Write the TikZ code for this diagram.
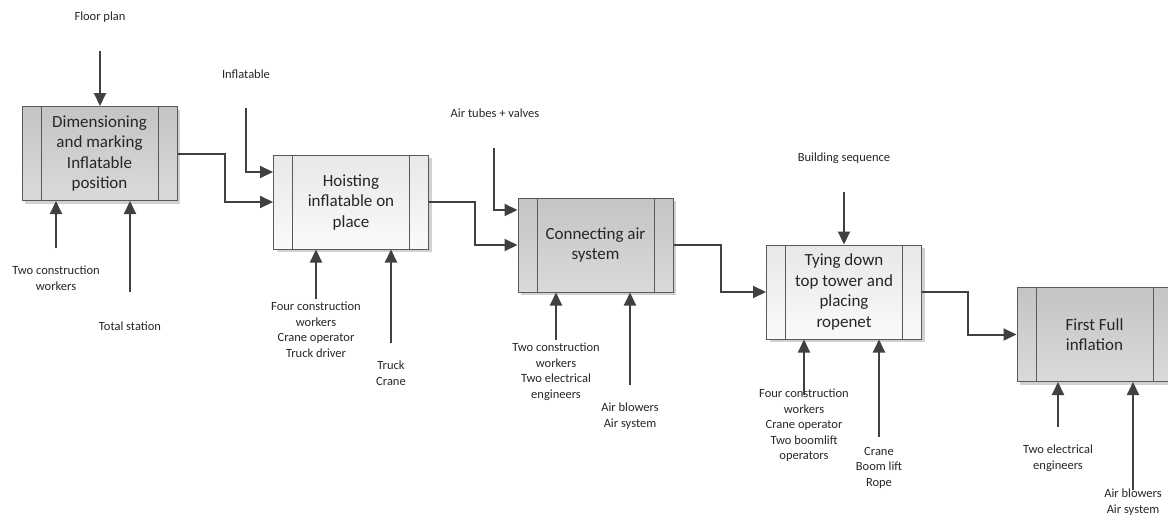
\documentclass[tikz,border=0pt]{standalone}
\usepackage{fontspec}
\setmainfont{Carlito}
\usetikzlibrary{arrows.meta,shadows}
\definecolor{linegray}{HTML}{404040}
\definecolor{edgegray}{HTML}{5A5A5A}
\definecolor{darkfillA}{HTML}{C4C4C4}
\definecolor{darkfillB}{HTML}{DADADA}
\definecolor{lightfillA}{HTML}{E8E8E8}
\definecolor{lightfillB}{HTML}{FAFAFA}
\tikzset{
  activity/.style={draw=edgegray, line width=1pt, minimum width=155pt, minimum height=94pt,
    inner sep=0pt, align=center,
    font=\fontsize{17}{20.5}\selectfont, text=black!85,
    drop shadow={shadow xshift=3pt, shadow yshift=-3pt, fill=black!18, opacity=1},
    path picture={
      \draw[edgegray, line width=1pt]
        ([xshift=19pt]path picture bounding box.north west) --
        ([xshift=19pt]path picture bounding box.south west)
        ([xshift=-19pt]path picture bounding box.north east) --
        ([xshift=-19pt]path picture bounding box.south east);
    }},
  darkbox/.style={activity, top color=darkfillA, bottom color=darkfillB},
  lightbox/.style={activity, top color=lightfillA, bottom color=lightfillB},
  flow/.style={draw=linegray, line width=2pt, -{Triangle[length=13pt,width=12pt]}},
  lbl/.style={align=center, inner sep=0pt, font=\fontsize{12.5}{15.5}\selectfont, text=black!85},
}
\begin{document}
\begin{tikzpicture}[x=1pt, y=-1pt]
\useasboundingbox (0,0) rectangle (1168,520);

% activities
\node[darkbox]  (b1) at (99.5,153.5) {Dimensioning\\and marking\\Inflatable\\position};
\node[lightbox] (b2) at (351,202)    {Hoisting\\inflatable on\\place};
\node[darkbox]  (b3) at (595.5,245)  {Connecting air\\system};
\node[lightbox] (b4) at (844,292)    {Tying down\\top tower and\\placing\\ropenet};
\node[darkbox]  (b5) at (1094.5,334.5) {First Full\\inflation};

% top labels and inputs
\node[lbl] (floor) at (100,17) {Floor plan};
\coordinate (floorT) at (100,51);
\draw[flow] (floorT) -- (b1.north -| floorT);

\node[lbl] (infl) at (246,74) {Inflatable};
\coordinate (inflT) at (246,108);
\draw[flow] (inflT) |- (b2.west |- 0,172);

\node[lbl] (tubes) at (495,113) {Air tubes + valves};
\coordinate (tubesT) at (494,148);
\draw[flow] (tubesT) |- (b3.west |- 0,210);

\node[lbl] (seq) at (844,158) {Building sequence};
\coordinate (seqT) at (844,192);
\draw[flow] (seqT) -- (b4.north);

% process flow
\draw[flow] (b1.east) -- ++(47,0) |- (b2.west);
\draw[flow] (b2.east) -- ++(46,0) |- (b3.west);
\draw[flow] (b3.east) -- ++(47,0) |- (b4.west);
\draw[flow] (b4.east) -- ++(46,0) |- (b5.west);

% resources under each activity
\node[lbl, anchor=north] (r1a) at (56,266) {Two construction\\workers};
\coordinate (r1aT) at (56,248);
\draw[flow] (r1aT) -- (b1.south -| r1aT);
\node[lbl] (r1b) at (130,326) {Total station};
\coordinate (r1bT) at (130,292);
\draw[flow] (r1bT) -- (b1.south -| r1bT);

\node[lbl, anchor=north] (r2a) at (316,302) {Four construction\\workers\\Crane operator\\Truck driver};
\coordinate (r2aT) at (316,299);
\draw[flow] (r2aT) -- (b2.south -| r2aT);
\node[lbl, anchor=north] (r2b) at (391,361) {Truck\\Crane};
\coordinate (r2bT) at (391,343);
\draw[flow] (r2bT) -- (b2.south -| r2bT);

\node[lbl, anchor=north] (r3a) at (556,343) {Two construction\\workers\\Two electrical\\engineers};
\coordinate (r3aT) at (556,340);
\draw[flow] (r3aT) -- (b3.south -| r3aT);
\node[lbl, anchor=north] (r3b) at (630,403) {Air blowers\\Air system};
\coordinate (r3bT) at (630,385);
\draw[flow] (r3bT) -- (b3.south -| r3bT);

\node[lbl, anchor=north] (r4a) at (804,389) {Four construction\\workers\\Crane operator\\Two boomlift\\operators};
\coordinate (r4aT) at (804,395);
\draw[flow] (r4aT) -- (b4.south -| r4aT);
\node[lbl, anchor=north] (r4b) at (879,447) {Crane\\Boom lift\\Rope};
\coordinate (r4bT) at (879,437);
\draw[flow] (r4bT) -- (b4.south -| r4bT);

\node[lbl, anchor=north] (r5a) at (1058,445) {Two electrical\\engineers};
\coordinate (r5aT) at (1058,427);
\draw[flow] (r5aT) -- (b5.south -| r5aT);
\node[lbl, anchor=north] (r5b) at (1133,489) {Air blowers\\Air system};
\coordinate (r5bT) at (1133,490);
\draw[flow] (r5bT) -- (b5.south -| r5bT);
\end{tikzpicture}
\end{document}
